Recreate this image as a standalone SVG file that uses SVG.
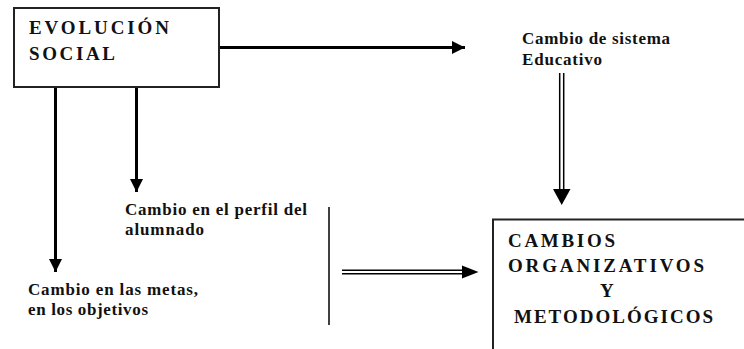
<svg xmlns="http://www.w3.org/2000/svg" width="744" height="349" viewBox="0 0 744 349">
<defs>
<marker id="ah" markerUnits="userSpaceOnUse" markerWidth="14" markerHeight="14" refX="13" refY="6.5" orient="auto" viewBox="0 0 14 13">
<path d="M0,0 L13,6.5 L0,13 Z" fill="#000"/>
</marker>
</defs>
<rect width="744" height="349" fill="#fff"/>
<g id="connectors" fill="none" stroke="#000">
<g stroke-width="3">
<line x1="219" y1="47.5" x2="465" y2="47.5" marker-end="url(#ah)"/>
<line x1="55.5" y1="87" x2="55.5" y2="272" marker-end="url(#ah)"/>
<line x1="136.5" y1="87" x2="136.5" y2="192" marker-end="url(#ah)"/>
</g>
<g id="double-down" stroke-width="1.5">
<line x1="559.7" y1="73" x2="559.7" y2="192"/>
<line x1="563.7" y1="73" x2="563.7" y2="192"/>
<polygon fill="#000" stroke="none" points="553,189 570.5,189 561.7,205"/>
</g>
<line stroke-width="1.5" x1="329" y1="207" x2="329" y2="325"/>
<g id="double-right" stroke-width="1.5">
<line x1="342" y1="270.2" x2="465" y2="270.2"/>
<line x1="342" y1="273.8" x2="465" y2="273.8"/>
<polygon fill="#000" stroke="none" points="462,265.5 478.5,272 462,278.5"/>
</g>
</g>
<g id="evolucion">
<rect x="14" y="8" width="205" height="79" fill="#fff" stroke="#222" stroke-width="2"/>
<text x="29" y="34" textLength="140" lengthAdjust="spacing" style="font-family:'Liberation Serif';font-size:19px;font-weight:bold" fill="#111">EVOLUCI&#211;N</text>
<text x="29" y="60" textLength="86" lengthAdjust="spacing" style="font-family:'Liberation Serif';font-size:19px;font-weight:bold" fill="#111">SOCIAL</text>
</g>
<g id="sistema">
<text x="522" y="44" textLength="148" lengthAdjust="spacing" style="font-family:'Liberation Serif';font-size:17px;font-weight:bold" fill="#111">Cambio de sistema</text>
<text x="522" y="65" textLength="80" lengthAdjust="spacing" style="font-family:'Liberation Serif';font-size:17px;font-weight:bold" fill="#111">Educativo</text>
</g>
<g id="perfil">
<text x="125" y="215" textLength="182" lengthAdjust="spacing" style="font-family:'Liberation Serif';font-size:17px;font-weight:bold" fill="#111">Cambio en el perfil del</text>
<text x="125" y="235" textLength="79" lengthAdjust="spacing" style="font-family:'Liberation Serif';font-size:17px;font-weight:bold" fill="#111">alumnado</text>
</g>
<g id="metas">
<text x="28" y="295" textLength="170" lengthAdjust="spacing" style="font-family:'Liberation Serif';font-size:17px;font-weight:bold" fill="#111">Cambio en las metas,</text>
<text x="28" y="315" textLength="120" lengthAdjust="spacing" style="font-family:'Liberation Serif';font-size:17px;font-weight:bold" fill="#111">en los objetivos</text>
</g>
<g id="cambios">
<rect x="493" y="219.5" width="260" height="140" fill="#fff" stroke="#222" stroke-width="2"/>
<text x="508" y="247" textLength="107" lengthAdjust="spacing" style="font-family:'Liberation Serif';font-size:19px;font-weight:bold" fill="#111">CAMBIOS</text>
<text x="508" y="272" textLength="196" lengthAdjust="spacing" style="font-family:'Liberation Serif';font-size:19px;font-weight:bold" fill="#111">ORGANIZATIVOS</text>
<text x="600" y="297" style="font-family:'Liberation Serif';font-size:19px;font-weight:bold" fill="#111">Y</text>
<text x="514" y="323" textLength="199" lengthAdjust="spacing" style="font-family:'Liberation Serif';font-size:19px;font-weight:bold" fill="#111">METODOL&#211;GICOS</text>
</g>
</svg>
